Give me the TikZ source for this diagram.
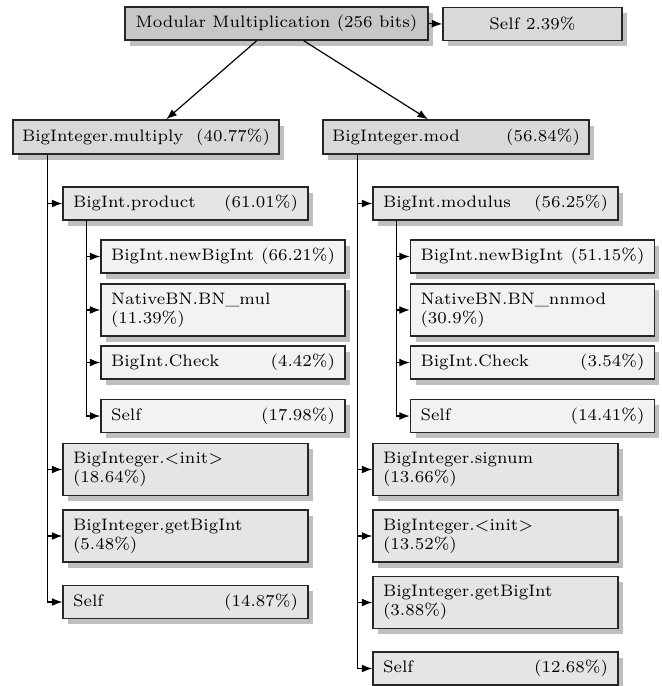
\documentclass[tikz,border=0pt]{standalone}
\usetikzlibrary{shadows,calc,arrows.meta}
\begin{document}
\begin{tikzpicture}[x=0.42017pt,y=-0.42017pt,
  every node/.style={font=\scriptsize},
  box/.style={draw=black!85, semithick, drop shadow={shadow xshift=2.1pt,shadow yshift=-2.4pt}, inner ysep=0pt, minimum height=13.9pt},
  topbox/.style={box, fill=black!22, minimum width=127.3pt, align=center},
  selfbox/.style={box, fill=black!15, minimum width=75.2pt, align=center},
  lone/.style={box, fill=black!15, text width=104.2pt, inner xsep=3.8pt, align=left, minimum height=14.3pt},
  ltwo/.style={box, fill=black!10, text width=94.5pt, inner xsep=4.2pt, align=left},
  lthree/.style={box, fill=black!5, text width=94.1pt, inner xsep=4.2pt, align=left},
  tall/.style={minimum height=21.8pt},
  arr/.style={-{Latex[length=4.4pt,width=3.3pt]}, line width=0.5pt}
]
\useasboundingbox (0,0) rectangle (662,686);

\node[topbox] (top) at (276.5,23.5) {Modular Multiplication (256 bits)};
\node[selfbox] (tself) at (532.5,24) {Self 2.39\%};

\node[lone] (mult) at (146,137) {BigInteger.multiply~\hfill(40.77\%)};
\node[lone] (mod) at (456,137) {BigInteger.mod~\hfill(56.84\%)};

% left branch
\node[ltwo] (prod) at (185.5,203.5) {BigInt.product~\hfill(61.01\%)};
\node[lthree] (lnew) at (223,256.5) {BigInt.newBigInt~\hfill(66.21\%)};
\node[lthree,tall] (lmul) at (223,310) {NativeBN.BN\_mul\\(11.39\%)};
\node[lthree] (lchk) at (223,362.5) {BigInt.Check~\hfill(4.42\%)};
\node[lthree] (lpself) at (223,416) {Self~\hfill(17.98\%)};
\node[ltwo,tall] (linit) at (185.5,469.5) {BigInteger.$<$init$>$\\(18.64\%)};
\node[ltwo,tall] (lget) at (185.5,536) {BigInteger.getBigInt\\(5.48\%)};
\node[ltwo] (lself) at (185.5,602) {Self~\hfill(14.87\%)};

% right branch
\node[ltwo] (modu) at (495.5,203.5) {BigInt.modulus~\hfill(56.25\%)};
\node[lthree] (rnew) at (532.5,256.5) {BigInt.newBigInt~\hfill(51.15\%)};
\node[lthree,tall] (rnn) at (532.5,310) {NativeBN.BN\_nnmod\\(30.9\%)};
\node[lthree] (rchk) at (532.5,362.5) {BigInt.Check~\hfill(3.54\%)};
\node[lthree] (rmself) at (532.5,416) {Self~\hfill(14.41\%)};
\node[ltwo,tall] (rsig) at (495.5,469.5) {BigInteger.signum\\(13.66\%)};
\node[ltwo,tall] (rinit) at (495.5,536) {BigInteger.$<$init$>$\\(13.52\%)};
\node[ltwo,tall] (rget) at (495.5,602.5) {BigInteger.getBigInt\\(3.88\%)};
\node[ltwo] (rself) at (495.5,668.5) {Self~\hfill(12.68\%)};

% connectors
\draw[arr] (top) -- (mult);
\draw[arr] (top) -- (mod);
\draw[arr] (top.east) -- (tself.west);

\foreach \c in {prod,linit,lget,lself}
  \draw[arr] ($(mult.south west)+(35,0)$) |- (\c.west);
\foreach \c in {lnew,lmul,lchk,lpself}
  \draw[arr] ($(prod.south west)+(24,0)$) |- (\c.west);
\foreach \c in {modu,rsig,rinit,rget,rself}
  \draw[arr] ($(mod.south west)+(35,0)$) |- (\c.west);
\foreach \c in {rnew,rnn,rchk,rmself}
  \draw[arr] ($(modu.south west)+(24,0)$) |- (\c.west);
\end{tikzpicture}
\end{document}
